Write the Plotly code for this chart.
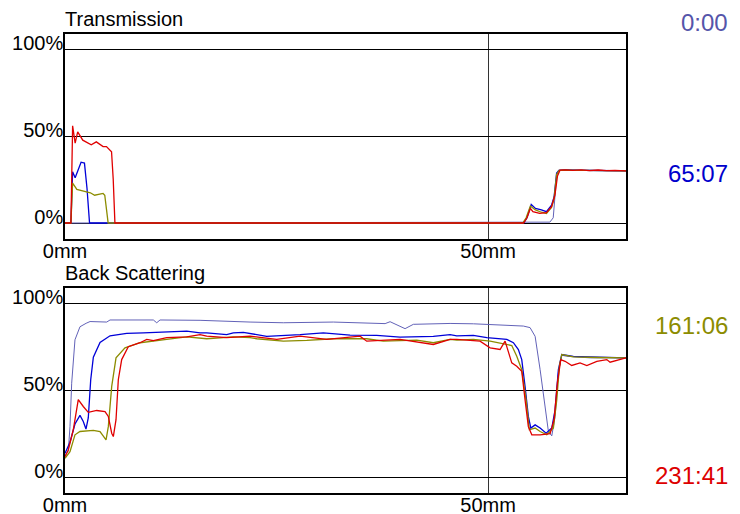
import plotly.graph_objects as go

# Scan labels (elapsed time, h:mm) and their colours
scan_labels = ["0:00", "65:07", "161:06", "231:41"]
line_colors = ["#6262B8", "#0000D8", "#8C8C00", "#E00000"]
text_colors = ["#5555AA", "#0000CC", "#8C8C00", "#DD0000"]
line_widths = [1.0, 1.3, 1.3, 1.3]

# Transmission (%) versus height (mm)
t_x = [
    [0, 57.3, 57.7, 57.9, 58.1, 58.3, 59.0, 60.0, 62.0, 64.0, 66.3],
    [0, 0.7, 0.9, 1.2, 1.9, 2.3, 2.6, 2.9, 54.2, 54.6, 55.1, 55.6, 56.3, 56.9,
     57.5, 57.8, 58.1, 58.4, 59.0, 61.0, 63.0, 65.0, 66.3],
    [0, 0.7, 0.9, 1.4, 3.0, 3.5, 4.5, 4.7, 4.9, 5.1, 54.1, 54.5, 55.0, 55.6,
     56.3, 56.9, 57.5, 57.8, 58.1, 58.4, 59.0, 61.0, 63.0, 65.0, 66.3],
    [0, 0.7, 0.9, 1.2, 1.5, 2.1, 3.1, 3.7, 4.5, 4.9, 5.5, 5.7, 5.9, 54.2, 54.6,
     55.0, 55.3, 55.6, 56.1, 56.9, 57.5, 57.9, 58.2, 58.5, 59.2, 60.0, 61.0,
     62.0, 63.0, 64.0, 65.0, 66.3],
]
t_y = [
    [0, 0.5, 3, 15, 27, 30.3, 30.5, 30.3, 30.4, 30.1, 30.0],
    [0, 0, 29.5, 26, 35, 34.5, 20, 0, 0, 3, 10.7, 8.4, 7.5, 6.5,
     10.3, 15, 28.7, 30.3, 30.5, 30.4, 30.3, 30.2, 30.0],
    [0, 0, 23, 19.3, 17.4, 16, 17, 16, 8, 0, 0, 3, 9.8, 7.5,
     6.2, 5.5, 9, 14, 28, 30.3, 30.4, 30.4, 30.3, 30.2, 30.0],
    [0, 0, 56, 46, 52.5, 47.7, 45, 46.7, 44, 44, 41, 25, 0, 0, 3,
     8.4, 6.5, 6, 5.5, 6, 9.4, 16, 27, 30.4, 30.6, 30.3, 30.6,
     30.2, 30.5, 30.1, 30.3, 30.0],
]

# Back scattering (%) versus height (mm)
bs_x = [
    [0, 0.39, 0.59, 0.79, 1.18, 1.77, 2.5, 2.96, 4.93, 5.32, 10.44, 10.84, 11.23,
     15.96, 21.87, 25.8, 31.71, 37.83, 38.42, 39.01, 40.19, 41.17, 45.51, 48.26,
     50.24, 54.17, 54.96, 55.56, 56.15, 56.74, 57.13, 57.53, 57.92, 58.31,
     58.71, 59.3, 62.06, 66.3],
    [0, 0.59, 1.18, 1.77, 2.16, 2.48, 2.75, 3.04, 3.35, 4.14, 5.32, 7.29, 9.26,
     12.02, 14.39, 15.96, 16.75, 19.11, 19.89, 21.08, 23.84, 27.78, 30.53,
     33.69, 36.84, 39.6, 43.53, 45.51, 46.3, 48.26, 49.85, 52.21, 52.99, 53.58,
     53.98, 54.37, 54.76, 55.05, 55.56, 56.15, 56.86, 57.53, 57.92, 58.31,
     58.71, 60.08, 63.0, 66.3],
    [0, 0.59, 1.18, 1.77, 3.35, 4.14, 4.85, 5.12, 5.52, 6.03, 7.09, 8.87, 12.02,
     14.39, 16.75, 19.89, 21.87, 22.66, 25.8, 28.57, 31.71, 35.66, 37.62,
     41.57, 43.53, 45.51, 46.3, 48.26, 50.24, 52.21, 52.8, 53.39, 53.98, 54.49,
     54.88, 55.56, 56.15, 56.94, 57.72, 58.12, 58.43, 58.71, 60.08, 63.0, 66.3],
    [0, 0.39, 0.98, 1.57, 2.16, 2.75, 3.75, 4.73, 5.12, 5.52, 5.71, 6.03, 6.3,
     6.7, 7.48, 8.87, 9.66, 10.44, 12.02, 14.39, 15.96, 16.75, 19.11, 21.87,
     25.02, 27.78, 30.93, 34.87, 35.66, 39.6, 43.53, 44.33, 45.51, 46.3, 49.05,
     50.24, 51.42, 52.01, 52.4, 52.8, 53.39, 53.98, 54.37, 54.76, 55.17, 56.15,
     57.33, 57.8, 58.19, 58.59, 59.1, 59.89, 60.87, 61.67, 62.85, 64.03, 64.42,
     65.6, 66.3],
]
bs_y = [
    [12.7, 15, 29, 54, 79, 86.5, 88.5, 89.5, 89.2, 90.4, 90.4, 88.8, 90.4,
     90.2, 89.2, 88.8, 89.2, 88.3, 89.4, 88.2, 85.4, 87.9, 88.4, 88.2,
     87.9, 86.9, 86, 81, 61.8, 38.7, 26.2, 23.7, 34.9, 60,
     70.1, 69.5, 68.6, 68.6],
    [13.7, 20, 30.5, 35.5, 32, 27.6, 34, 56, 69, 77.5, 81.3, 82.7, 83,
     83.4, 84, 83, 83, 82, 83, 83.3, 81, 82, 83,
     81.7, 81.5, 80.5, 81, 82, 81.3, 81.5, 80.2, 79.2, 77.3, 73.4,
     67.6, 52.2, 34.9, 28.2, 30, 28.2, 25.2, 28.2, 38.7, 61.8,
     70.5, 69.5, 68.9, 68.6],
    [10.8, 14.6, 24.3, 26.2, 26.8, 26.2, 21.4, 29, 52.2, 68.6, 74.4, 77.3, 79.2,
     80.7, 79.6, 80.7, 80.2, 79.6, 78.2, 78.6, 79.6, 79.6, 78.2,
     78.8, 77.3, 79.2, 78.8, 79.2, 78.2, 76.3, 75.7, 69.5, 61.8, 44.5,
     27.2, 28.2, 26.2, 24.3, 28.2, 44.5, 63.8, 70.5, 69.2, 68.8, 68.6],
    [11.7, 15.6, 27.2, 44.5, 40.6, 37.2, 38.3, 37.7, 34.9, 25.2, 23.3, 33, 56,
     67.6, 75, 77.3, 79.2, 78.5, 80.2, 80.7, 82, 81.1, 80.2, 81.1,
     79.2, 81.1, 79.2, 81.1, 78.2, 79.2, 76.3, 77.3, 79.2, 79.2, 78.2,
     74.4, 73.4, 78.2, 71.5, 65.7, 63.8, 60.9, 44.5, 29, 24.3, 24.3,
     24.9, 33, 54.2, 67.6, 66.6, 64.2, 65.7, 64.2, 66.6, 67.6, 66.1,
     67.6, 68.6],
]

panel_titles = ["Transmission", "Back Scattering"]
y_ticks = [0, 50, 100]
y_tick_text = ["0%", "50%", "100%"]
x_ticks = [0, 50]
x_tick_text = ["0mm", "50mm"]

FONT = "Liberation Sans, Arial, sans-serif"

fig = go.Figure()
for i in range(4):
    fig.add_trace(go.Scatter(x=t_x[i], y=t_y[i], mode="lines", name=scan_labels[i],
                             line=dict(color=line_colors[i], width=line_widths[i]),
                             xaxis="x", yaxis="y", showlegend=False))
for i in range(4):
    fig.add_trace(go.Scatter(x=bs_x[i], y=bs_y[i], mode="lines", name=scan_labels[i],
                             line=dict(color=line_colors[i], width=line_widths[i]),
                             xaxis="x2", yaxis="y2", showlegend=False))

x_common = dict(range=[0, 66.3], tickvals=x_ticks, ticktext=x_tick_text,
                showgrid=True, gridcolor="#333333", gridwidth=1,
                showline=True, linecolor="black", linewidth=1.5, mirror=True,
                ticks="", zeroline=False, automargin=False, ticklabelstandoff=-7,
                tickfont=dict(family=FONT, size=20, color="black"))
y_common = dict(range=[-9.2, 108.8], tickvals=y_ticks, ticktext=y_tick_text,
                showgrid=True, gridcolor="black", gridwidth=1,
                showline=True, linecolor="black", linewidth=1.5, mirror=True,
                ticks="", zeroline=False, automargin=False,
                ticklabelshift=-6, ticklabelstandoff=-4,
                tickfont=dict(family=FONT, size=20, color="black"))

fig.update_layout(
    width=740, height=514,
    margin=dict(l=65, r=114, t=34, b=21),
    paper_bgcolor="white", plot_bgcolor="white",
    xaxis=dict(domain=[0, 1], anchor="y", **x_common),
    yaxis=dict(domain=[0.5534, 1], anchor="x", **y_common),
    xaxis2=dict(domain=[0, 1], anchor="y2", **x_common),
    yaxis2=dict(domain=[0, 0.4466], anchor="x2", **y_common),
)

# Panel titles above each frame
for title, ypos in zip(panel_titles, [1.0327, 0.4793]):
    fig.add_annotation(text=title, xref="paper", yref="paper", x=0, y=ypos,
                       xanchor="left", yanchor="middle", showarrow=False,
                       xshift=-2, font=dict(family=FONT, size=20, color="black"))

# Scan time legend down the right side
for label, color, ypos in zip(scan_labels, text_colors, [1.0261, 0.695, 0.366, 0.0392]):
    fig.add_annotation(text=label, xref="paper", yref="paper", x=1.1854, y=ypos,
                       xanchor="right", yanchor="middle", showarrow=False,
                       font=dict(family=FONT, size=24, color=color))

fig.write_html("out.html")
